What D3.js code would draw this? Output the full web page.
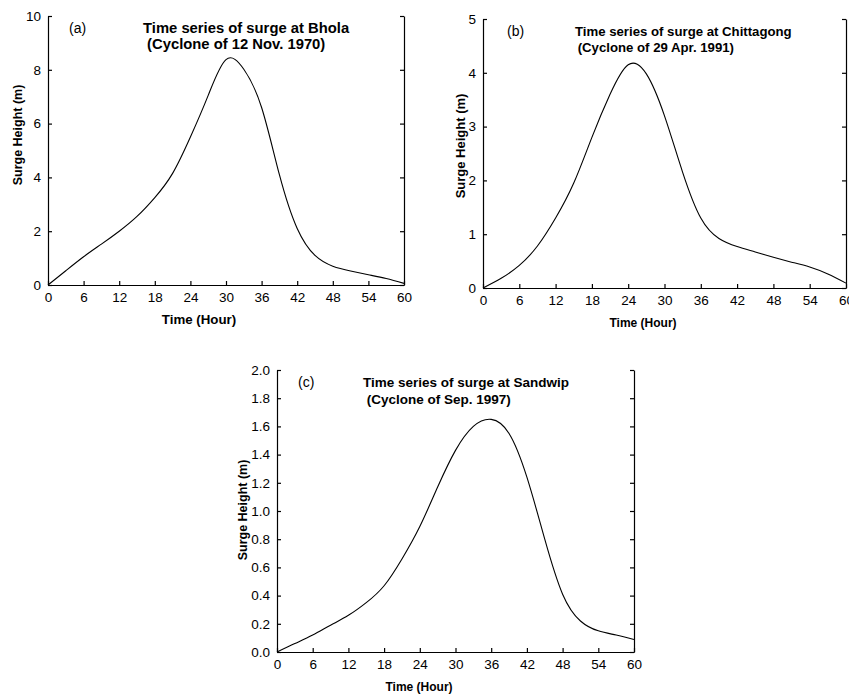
<!DOCTYPE html>
<html>
<head>
<meta charset="utf-8">
<script src="https://cdn.jsdelivr.net/npm/d3@7/dist/d3.min.js"></script>
<style>
  body { margin: 0; background: #fff; }
  svg text { font-family: "Liberation Sans", Arial, sans-serif; fill: #000; }
</style>
</head>
<body>
<div id="chart"></div>
<script>
// hours of the simulation, every 3 h
const hours = [0, 3, 6, 9, 12, 15, 18, 21, 24, 27, 30, 33, 36, 39, 42, 45, 48, 51, 54, 57, 60];

// surge heights (m)
const bholaSurge = [0, 0.53, 1.05, 1.52, 2.0, 2.55, 3.25, 4.15, 5.5, 7.05, 8.38, 8.02, 6.6, 4.1, 2.1, 1.1, 0.7, 0.52, 0.38, 0.24, 0.06];
const chittagongSurge = [0, 0.18, 0.42, 0.78, 1.3, 1.95, 2.8, 3.6, 4.15, 3.98, 3.2, 2.15, 1.3, 0.92, 0.77, 0.67, 0.57, 0.48, 0.39, 0.26, 0.09];
const sandwipSurge = [0, 0.06, 0.12, 0.19, 0.26, 0.35, 0.47, 0.66, 0.89, 1.17, 1.43, 1.6, 1.65, 1.55, 1.24, 0.8, 0.41, 0.22, 0.15, 0.12, 0.088];

const hourTicks = [0, 6, 12, 18, 24, 30, 36, 42, 48, 54, 60];
const bholaTicks = [0, 2, 4, 6, 8, 10];
const chittagongTicks = [0, 1, 2, 3, 4, 5];
const sandwipTicks = [0, 0.2, 0.4, 0.6, 0.8, 1.0, 1.2, 1.4, 1.6, 1.8, 2.0];

const titles = [
  ["(a)", "Time series of surge at Bhola", " (Cyclone of 12 Nov. 1970)"],
  ["(b)", "Time series of surge at Chittagong", " (Cyclone of 29 Apr. 1991)"],
  ["(c)", "Time series of surge at Sandwip", " (Cyclone of Sep. 1997)"]
];

(function () {
  const [width, height] = [849, 696];

  const panels = [
    { values: bholaSurge, ticks: bholaTicks, fmt: d3.format("d"), title: titles[0],
      left: 48, right: 404, top: 16, bottom: 285,
      tag: [69, 33], line1: [143, 33], line2: [143, 49], titleSize: 14.8,
      yLab: [17.5, 135, 12.5], xLab: [199, 324, 13.3] },
    { values: chittagongSurge, ticks: chittagongTicks, fmt: d3.format("d"), title: titles[1],
      left: 483, right: 846, top: 19, bottom: 288,
      tag: [507, 36], line1: [575, 36], line2: [574, 52], titleSize: 13.2,
      yLab: [460, 146, 13], xLab: [643, 327, 12] },
    { values: sandwipSurge, ticks: sandwipTicks, fmt: d3.format(".1f"), title: titles[2],
      left: 277, right: 634, top: 370, bottom: 652,
      tag: [298, 387], line1: [363, 387], line2: [363, 404], titleSize: 13.5,
      yLab: [243, 510, 12.5], xLab: [419, 691, 12] }
  ];

  const svg = d3.select("#chart")
    .append("svg")
    .attr("width", width)
    .attr("height", height);

  panels.forEach(p => {
    const x = d3.scaleLinear().domain([0, 60]).range([p.left, p.right]);
    const y = d3.scaleLinear().domain([0, d3.max(p.ticks)]).range([p.bottom, p.top]);
    const g = svg.append("g");

    const styleAxis = a => {
      a.attr("font-size", 13.5).attr("font-family", null);
      a.selectAll("path, line").attr("stroke", "#000").attr("stroke-width", 1.2);
    };

    g.append("g")
      .attr("transform", `translate(0,${p.bottom})`)
      .call(d3.axisBottom(x).tickValues(hourTicks).tickSizeInner(-4).tickSizeOuter(0).tickPadding(7))
      .call(styleAxis);

    g.append("g")
      .attr("transform", `translate(${p.left},0)`)
      .call(d3.axisLeft(y).tickValues(p.ticks).tickFormat(p.fmt).tickSizeInner(-4).tickSizeOuter(0).tickPadding(7))
      .call(styleAxis);

    g.append("g")
      .attr("transform", `translate(${p.right},0)`)
      .call(d3.axisRight(y).tickValues(p.ticks).tickFormat("").tickSizeInner(-4).tickSizeOuter(0))
      .call(styleAxis);

    // smooth curve through the read values
    const line = d3.line()
      .x((d, i) => x(hours[i]))
      .y(d => y(d))
      .curve(d3.curveNatural);

    g.append("path")
      .datum(p.values)
      .attr("d", line)
      .attr("fill", "none")
      .attr("stroke", "#000")
      .attr("stroke-width", 1.1);

    // titles
    g.append("text")
      .attr("x", p.tag[0]).attr("y", p.tag[1])
      .attr("font-size", 14)
      .text(p.title[0]);
    g.append("text")
      .attr("x", p.line1[0]).attr("y", p.line1[1])
      .attr("font-size", p.titleSize).attr("font-weight", "bold")
      .text(p.title[1]);
    g.append("text")
      .attr("x", p.line2[0]).attr("y", p.line2[1])
      .attr("font-size", p.titleSize).attr("font-weight", "bold")
      .attr("xml:space", "preserve")
      .text(p.title[2]);

    // axis labels
    g.append("text")
      .attr("transform", `translate(${p.yLab[0]},${p.yLab[1]}) rotate(-90)`)
      .attr("text-anchor", "middle")
      .attr("dy", "0.35em")
      .attr("font-size", p.yLab[2]).attr("font-weight", "bold")
      .text("Surge Height (m)");
    g.append("text")
      .attr("x", p.xLab[0]).attr("y", p.xLab[1])
      .attr("text-anchor", "middle")
      .attr("font-size", p.xLab[2]).attr("font-weight", "bold")
      .text("Time (Hour)");
  });
})();
</script>
</body>
</html>
